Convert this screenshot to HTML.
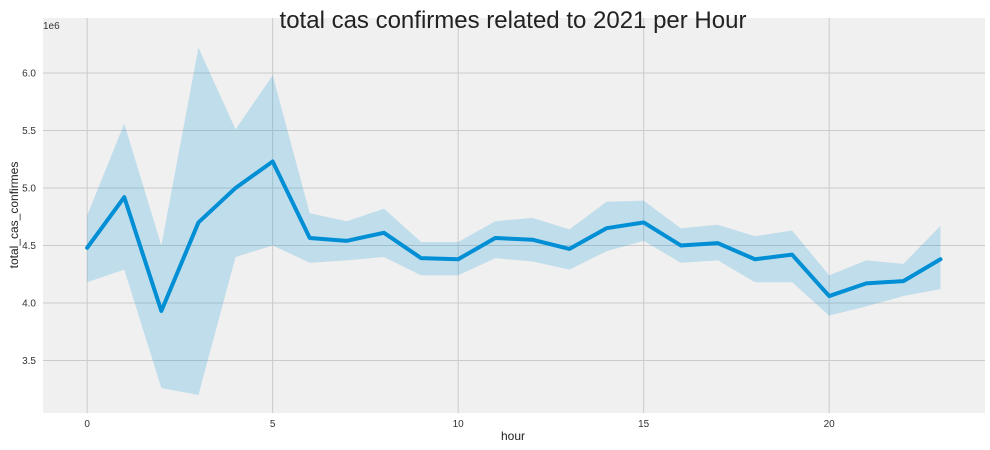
<!DOCTYPE html>
<html><head><meta charset="utf-8"><style>
body{margin:0;background:#fff;}
svg{display:block;font-family:"Liberation Sans",sans-serif;}
</style></head><body>
<svg id="chart" width="990" height="450"></svg>
<script>
const hours=[0,1,2,3,4,5,6,7,8,9,10,11,12,13,14,15,16,17,18,19,20,21,22,23];
const meanVals=[4.48,4.92,3.93,4.70,5.00,5.23,4.565,4.54,4.61,4.39,4.38,4.565,4.55,4.47,4.65,4.70,4.50,4.52,4.38,4.42,4.06,4.17,4.19,4.38];
const upperVals=[4.76,5.56,4.50,6.22,5.51,5.98,4.78,4.71,4.82,4.53,4.53,4.71,4.74,4.64,4.88,4.89,4.65,4.68,4.58,4.63,4.24,4.37,4.34,4.67];
const lowerVals=[4.18,4.29,3.26,3.20,4.40,4.50,4.35,4.37,4.40,4.24,4.24,4.39,4.36,4.29,4.45,4.54,4.35,4.37,4.18,4.18,3.89,3.97,4.06,4.12];
const xTicks=[0,5,10,15,20];
const yTicks=[3.5,4.0,4.5,5.0,5.5,6.0];
const L=43,R=985,T=18,B=413;
const xMin=-1.19,xMax=24.2,yMin=3.043,yMax=6.478;
const sx=v=>L+(v-xMin)/(xMax-xMin)*(R-L);
const sy=v=>B-(v-yMin)/(yMax-yMin)*(B-T);
const svg=document.getElementById('chart');
const NS='http://www.w3.org/2000/svg';
function mk(tag,attrs,parent){const e=document.createElementNS(NS,tag);for(const k in attrs)e.setAttribute(k,attrs[k]);(parent||svg).appendChild(e);return e;}
const bg=mk('rect',{x:L,y:T,width:R-L,height:B-T,fill:'#f0f0f0'});


xTicks.forEach(t=>{
  const g=mk('line',{x1:sx(t),x2:sx(t),y1:T,y2:B,stroke:'#cbcbcb','stroke-width':1});
  
  
  const tx=mk('text',{x:sx(t),y:B+14,'text-anchor':'middle','font-size':10,fill:'#333'});
  tx.textContent=t;
  
  
});
yTicks.forEach(t=>{
  const g=mk('line',{x1:L,x2:R,y1:sy(t),y2:sy(t),stroke:'#cbcbcb','stroke-width':1});
  
  
  const tx=mk('text',{x:L-7,y:sy(t)+3.5,'text-anchor':'end','font-size':10,fill:'#333'});
  tx.textContent=t.toFixed(1);
  
  
});
let d='M'+hours.map((h,i)=>sx(h)+','+sy(upperVals[i])).join('L');
for(let i=hours.length-1;i>=0;i--)d+='L'+sx(hours[i])+','+sy(lowerVals[i]);
const band=mk('path',{d:d+'Z',fill:'#008fd5','fill-opacity':0.2});


const line=mk('path',{d:'M'+hours.map((h,i)=>sx(h)+','+sy(meanVals[i])).join('L'),fill:'none',stroke:'#008fd5','stroke-width':4,'stroke-linejoin':'round','stroke-linecap':'round'});


</script>
<svg style="position:absolute;left:0;top:0" width="990" height="450">
<text x="513" y="28" text-anchor="middle" font-size="24" fill="#222" font-family="Liberation Sans, sans-serif">total cas confirmes related to 2021 per Hour</text>
<text x="43" y="29" font-size="10" fill="#333" font-family="Liberation Sans, sans-serif">1e6</text>
<text x="513" y="440" text-anchor="middle" font-size="12" fill="#222" font-family="Liberation Sans, sans-serif">hour</text>
<text x="18" y="215" text-anchor="middle" font-size="12" fill="#222" transform="rotate(-90 18 215)" font-family="Liberation Sans, sans-serif">total_cas_confirmes</text>
</svg>
</body></html>
